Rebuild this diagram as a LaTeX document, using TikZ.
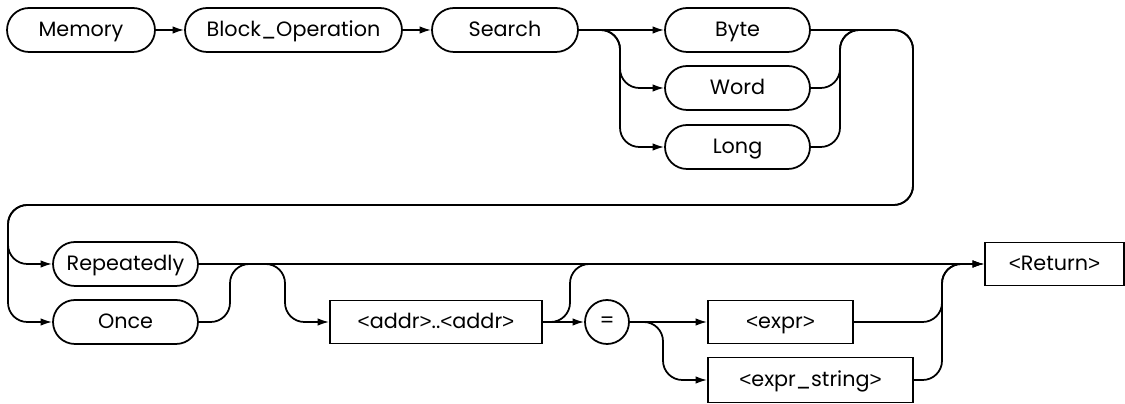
\documentclass[tikz,border=0pt]{standalone}
\usepackage{fontspec}
\setmainfont{Poppins}
\newfontfamily\brkfont{Liberation Sans}
\newcommand{\ltag}{{\brkfont<}}
\newcommand{\rtag}{{\brkfont>}}
\usepackage{tikz}
\usetikzlibrary{shapes.misc, arrows.meta, positioning, calc}

\tikzset{
  kw/.style={draw, rounded rectangle, minimum width=2.9cm, minimum height=0.88cm, inner sep=0pt,
    text height=8.4pt, text depth=0.8pt},
  arg/.style={draw, rectangle, minimum width=2.9cm, minimum height=0.86cm, inner sep=0pt,
    text height=8.4pt, text depth=0.8pt},
  conn/.style={line width=1pt, rounded corners=11pt},
  flow/.style={conn, -{Latex[length=2.3mm, width=1.5mm]}}
}

\begin{document}
\begin{tikzpicture}[x=0.02cm, y=-0.02cm, line width=1pt, font=\fontsize{11.8}{13}\selectfont]
    \useasboundingbox (0,0) rectangle (1125,404);

    % First row
    \node[kw, minimum width=2.96cm] (mem) at (81,30) {Memory};
    \node[kw, minimum width=4.34cm] (blk) at (293.5,30) {Block\_Operation};
    \node[kw, minimum width=2.92cm] (srch) at (505,30) {Search};

    % Size choices
    \node[kw] (byte) at (737.5,30) {Byte};
    \node[kw] (word) at (737.5,88) {Word};
    \node[kw] (long) at (737.5,147) {Long};

    % Second row
    \node[kw] (rep) at (125.5,264) {Repeatedly};
    \node[kw] (once) at (125.5,322) {Once};
    \node[arg, minimum width=4.24cm] (addr) at (436,322) {\ltag addr\rtag..\ltag addr\rtag};
    \node[draw, circle, minimum size=0.88cm, inner sep=0pt] (eq) at (607,322) {=};
    \node[arg] (expr) at (780.5,322) {\ltag expr\rtag};
    \node[arg, minimum width=4.1cm, minimum height=0.9cm] (exprs) at (810.5,380) {\ltag expr\_string\rtag};
    \node[arg, minimum width=2.78cm] (ret) at (1054.5,264) {\ltag Return\rtag};

    % Turning points
    \coordinate (sz) at (620,30);
    \coordinate (wm) at (840,30);
    \coordinate (wj) at (870,30);
    \coordinate (lr) at (913,205);
    \coordinate (ll) at (8,205);
    \coordinate (h1) at (230,264);
    \coordinate (h2) at (285,264);
    \coordinate (ab) at (570,264);
    \coordinate (abj) at (600,264);
    \coordinate (es) at (663,322);
    \coordinate (rj) at (942,264);

    % Top row connectors
    \draw[flow] (mem) -- (blk);
    \draw[flow] (blk) -- (srch);
    \draw[flow] (srch) -- (byte);
    \draw[flow] (srch.east) -- (sz) |- (word);
    \draw[flow] (srch.east) -- (sz) |- (long);

    % Merge and loop back
    \draw[conn] (word.east) -| (wm) -- (wj);
    \draw[conn] (long.east) -| (wm) -- (wj);
    \draw[flow] (byte.east) -| (lr) -- (ll) |- (rep);
    \draw[flow] (byte.east) -| (lr) -- (ll) |- (once);

    % Second row connectors
    \draw[flow] (rep) -- (ret);
    \draw[flow] (once.east) -| (h1) -- (h2) |- (addr);
    \draw[flow] (addr) -- (eq);
    \draw[conn] (addr.east) -| (ab) -- (abj);
    \draw[flow] (eq) -- (expr);
    \draw[flow] (eq.east) -- (es) |- (exprs);
    \draw[flow] (expr.east) -| (rj) -- (ret);
    \draw[flow] (exprs.east) -| (rj) -- (ret);
\end{tikzpicture}
\end{document}
